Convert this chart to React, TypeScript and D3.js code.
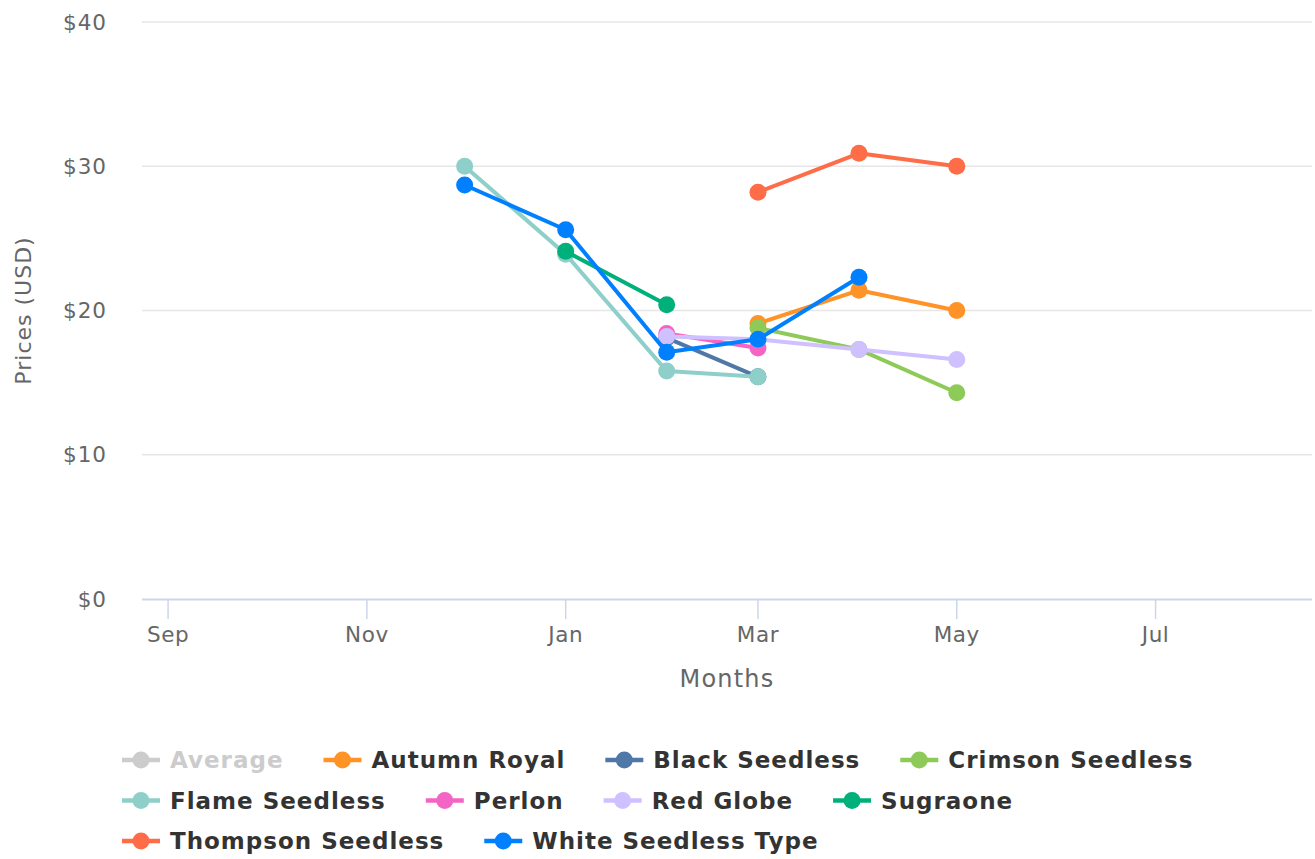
import React, { useEffect, useRef } from "react";
import * as d3 from "d3";

const months = ["2022-12-01", "2023-01-01", "2023-02-01", "2023-03-01", "2023-04-01", "2023-05-01"];
const xTickDates = ["2022-09-01", "2022-11-01", "2023-01-01", "2023-03-01", "2023-05-01", "2023-07-01"];
const yTicks = [0, 10, 20, 30, 40];

const seriesNames = [
  "Average",
  "Autumn Royal",
  "Black Seedless",
  "Crimson Seedless",
  "Flame Seedless",
  "Perlon",
  "Red Globe",
  "Sugraone",
  "Thompson Seedless",
  "White Seedless Type",
];
const seriesColors = [
  "#cccccc",
  "#ff9327",
  "#4f78a8",
  "#8dca57",
  "#8ecfca",
  "#f464c4",
  "#cfc0ff",
  "#00b07b",
  "#ff6c48",
  "#0080ff",
];
const seriesHidden = [true, false, false, false, false, false, false, false, false, false];

const averageValues: (number | null)[] = [null, null, null, null, null, null];
const autumnRoyal: (number | null)[] = [null, null, null, 19.1, 21.4, 20.0];
const blackSeedless: (number | null)[] = [null, null, 18.1, 15.4, null, null];
const crimsonSeedless: (number | null)[] = [null, null, null, 18.8, 17.3, 14.3];
const flameSeedless: (number | null)[] = [30.0, 23.9, 15.8, 15.4, null, null];
const perlon: (number | null)[] = [null, null, 18.4, 17.4, null, null];
const redGlobe: (number | null)[] = [null, null, 18.2, 18.0, 17.3, 16.6];
const sugraone: (number | null)[] = [null, 24.1, 20.4, null, null, null];
const thompsonSeedless: (number | null)[] = [null, null, null, 28.2, 30.9, 30.0];
const whiteSeedlessType: (number | null)[] = [28.7, 25.6, 17.1, 18.0, 22.3, null];

const seriesValues = [
  averageValues,
  autumnRoyal,
  blackSeedless,
  crimsonSeedless,
  flameSeedless,
  perlon,
  redGlobe,
  sugraone,
  thompsonSeedless,
  whiteSeedlessType,
];

const W = 1315;
const H = 859;
const FONT = "'DejaVu Sans', 'Open Sans', sans-serif";

export default function App() {
  const ref = useRef<SVGSVGElement | null>(null);

  useEffect(() => {
    const svg = d3.select(ref.current);
    svg.selectAll("*").remove();

    const left = 142, right = 1312, top = 22, bottom = 599;
    const parse = d3.timeParse("%Y-%m-%d");
    const x = d3
      .scaleTime()
      .domain([parse("2022-08-24")!, parse("2023-08-18")!])
      .range([left, right]);
    const y = d3.scaleLinear().domain([0, 40]).range([bottom, top]);

    // grid
    const g = svg.append("g");
    g.selectAll("line.grid")
      .data(yTicks.filter((t) => t !== 0))
      .enter()
      .append("line")
      .attr("x1", left)
      .attr("x2", right)
      .attr("y1", (d) => y(d))
      .attr("y2", (d) => y(d))
      .attr("stroke", "#e6e6e6")
      .attr("stroke-width", 1.5);

    // y labels
    g.selectAll("text.ylab")
      .data(yTicks)
      .enter()
      .append("text")
      .attr("x", 107)
      .attr("y", (d) => y(d))
      .attr("dy", "0.35em")
      .attr("text-anchor", "end")
      .attr("fill", "#666666")
      .attr("font-family", FONT)
      .attr("font-size", 21.5)
      .attr("letter-spacing", 1)
      .text((d) => `$${d}`);

    // y title
    svg
      .append("text")
      .attr("transform", `translate(31, ${(top + bottom) / 2}) rotate(-90)`)
      .attr("text-anchor", "middle")
      .attr("fill", "#666666")
      .attr("font-family", FONT)
      .attr("font-size", 22)
      .attr("letter-spacing", 1)
      .text("Prices (USD)");

    // x axis line
    g.append("line")
      .attr("x1", left)
      .attr("x2", right)
      .attr("y1", bottom + 0.5)
      .attr("y2", bottom + 0.5)
      .attr("stroke", "#ccd6eb")
      .attr("stroke-width", 2);

    const tickDates = xTickDates.map((s) => parse(s)!);
    g.selectAll("line.xtick")
      .data(tickDates)
      .enter()
      .append("line")
      .attr("x1", (d) => x(d))
      .attr("x2", (d) => x(d))
      .attr("y1", bottom)
      .attr("y2", bottom + 20)
      .attr("stroke", "#ccd6eb")
      .attr("stroke-width", 1.5);

    const fmt = d3.timeFormat("%b");
    g.selectAll("text.xlab")
      .data(tickDates)
      .enter()
      .append("text")
      .attr("x", (d) => x(d))
      .attr("y", 642)
      .attr("text-anchor", "middle")
      .attr("fill", "#666666")
      .attr("font-family", FONT)
      .attr("font-size", 21.5)
      .attr("letter-spacing", 0.6)
      .text((d) => fmt(d));

    svg
      .append("text")
      .attr("x", (left + right) / 2)
      .attr("y", 687)
      .attr("text-anchor", "middle")
      .attr("fill", "#666666")
      .attr("font-family", FONT)
      .attr("font-size", 24)
      .attr("letter-spacing", 1.2)
      .text("Months");

    // series
    const dates = months.map((s) => parse(s)!);
    const line = d3
      .line<[Date, number | null]>()
      .defined((d) => d[1] !== null)
      .x((d) => x(d[0]))
      .y((d) => y(d[1] as number));

    seriesNames.forEach((name, i) => {
      if (seriesHidden[i]) return;
      const pts: [Date, number | null][] = dates.map((d, j) => [d, seriesValues[i][j]]);
      const sg = svg.append("g");
      sg.append("path")
        .attr("d", line(pts))
        .attr("fill", "none")
        .attr("stroke", seriesColors[i])
        .attr("stroke-width", 4)
        .attr("stroke-linejoin", "round")
        .attr("stroke-linecap", "round");
      sg.selectAll("circle")
        .data(pts.filter((p) => p[1] !== null))
        .enter()
        .append("circle")
        .attr("cx", (d) => x(d[0]))
        .attr("cy", (d) => y(d[1] as number))
        .attr("r", 8.5)
        .attr("fill", seriesColors[i]);
    });

    // legend
    const lg = svg.append("g");
    const startX = 122;
    const maxRight = 1300;
    const rowY0 = 760;
    const rowH = 40.5;
    let cx = startX;
    let row = 0;
    seriesNames.forEach((name, i) => {
      const item = lg.append("g");
      const t = item
        .append("text")
        .attr("font-family", FONT)
        .attr("font-size", 23)
        .attr("font-weight", "bold")
        .attr("letter-spacing", 1)
        .attr("fill", seriesHidden[i] ? "#cccccc" : "#333333")
        .attr("dy", "0.36em")
        .text(name);
      const tw = (t.node() as SVGTextElement).getComputedTextLength();
      const itemW = 38 + 10 + tw;
      if (cx !== startX && cx + itemW > maxRight) {
        row += 1;
        cx = startX;
      }
      const yy = rowY0 + row * rowH;
      const col = seriesHidden[i] ? "#cccccc" : seriesColors[i];
      item
        .append("line")
        .attr("x1", cx)
        .attr("x2", cx + 38)
        .attr("y1", yy)
        .attr("y2", yy)
        .attr("stroke", col)
        .attr("stroke-width", 4.5);
      item
        .append("circle")
        .attr("cx", cx + 19)
        .attr("cy", yy)
        .attr("r", 8.5)
        .attr("fill", col);
      t.attr("x", cx + 48).attr("y", yy);
      cx += itemW + 40;
    });
  }, []);

  return (
    <svg
      ref={ref}
      width={W}
      height={H}
      style={{ display: "block", position: "absolute", left: 0, top: 0, background: "#ffffff" }}
    />
  );
}
